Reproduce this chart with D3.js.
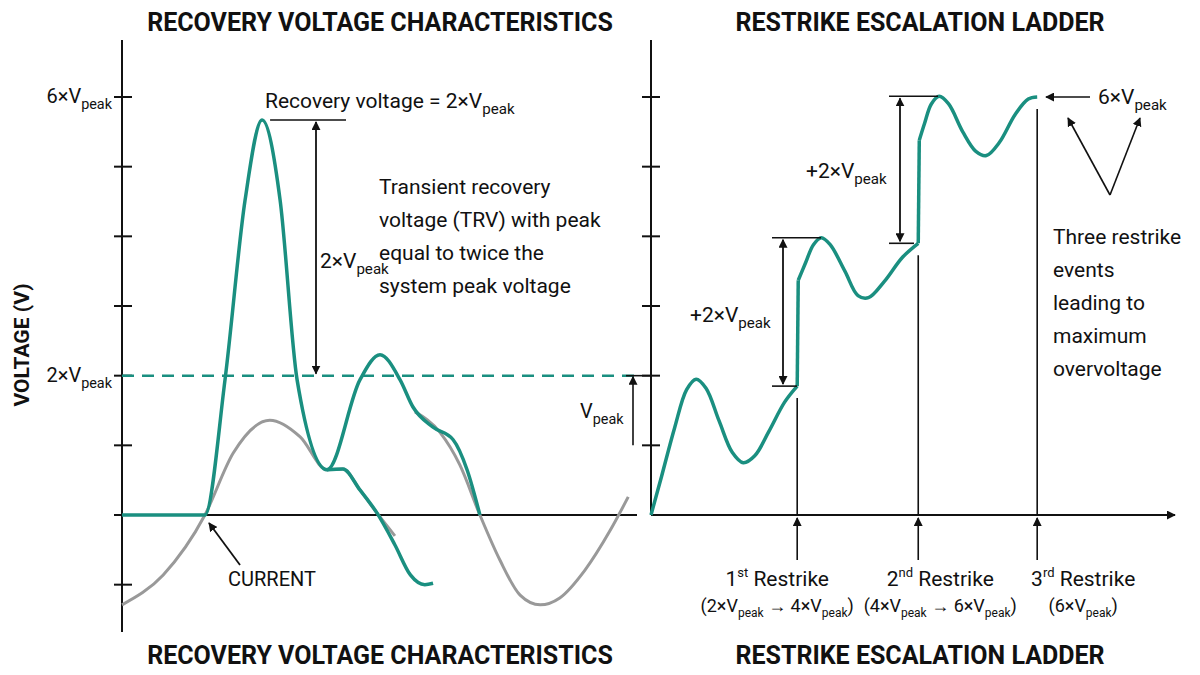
<!DOCTYPE html>
<html><head><meta charset="utf-8">
<script src="https://cdn.jsdelivr.net/npm/d3@7"></script>
<style>body{margin:0;background:#fff}text{font-family:Roboto,"Liberation Sans",sans-serif;fill:#111}</style>
</head><body><div id="chart"></div>
<script>
// values in units of Vpeak, time in arbitrary units
const trvMain = [[0,0],[1.61,0],[2.0,1.94],[2.39,4.52],[2.72,5.67],[3.07,4.52],[3.40,1.94],[3.98,0.65],[4.62,1.94],[5.01,2.30],[5.40,1.94],[5.65,1.55],[6.04,1.26],[6.43,1.08],[6.70,0.65],[6.95,0]];
const trvBranch = [[3.98,0.65],[4.29,0.66],[4.62,0.36],[4.95,0.03],[5.30,-0.43],[5.60,-0.86],[5.88,-1.0],[6.04,-0.98]];
const currentA = [[0,-1.29],[0.8,-0.86],[1.61,0],[2.16,0.89],[2.87,1.36],[3.46,1.12],[3.98,0.65],[4.29,0.66],[4.62,0.36],[4.95,0.03],[5.30,-0.3]];
const currentB = [[5.69,1.48],[6.17,1.19],[6.56,0.72],[6.95,0],[7.34,-0.65],[7.73,-1.15],[8.12,-1.29],[8.50,-1.19],[8.99,-0.79],[9.48,-0.22],[9.83,0.26]];
const ladderSegs = [
  [[0,0],[0.2,0.55],[0.45,1.25],[0.68,1.8],[0.86,1.95],[1.05,1.82],[1.3,1.35],[1.55,0.9],[1.76,0.75],[1.98,0.85],[2.25,1.2],[2.55,1.62],[2.79,1.85]],
  [[2.81,3.37],[2.95,3.62],[3.1,3.88],[3.25,3.98],[3.42,3.88],[3.7,3.5],[3.95,3.15],[4.15,3.12],[4.45,3.35],[4.8,3.7],[5.10,3.90]],
  [[5.12,5.38],[5.22,5.62],[5.35,5.9],[5.5,6.01],[5.68,5.9],[5.95,5.5],[6.2,5.22],[6.4,5.16],[6.65,5.35],[6.95,5.75],[7.2,5.97],[7.37,6.0]]
];
const restrikes = [
  {t: 2.79, from: 1.85, n: "1", sup: "st", a: "2", b: "4"},
  {t: 5.10, from: 3.90, n: "2", sup: "nd", a: "4", b: "6"},
  {t: 7.37, from: 6.0, n: "3", sup: "rd", a: "6", b: null}
];
const labelShift = [-20, 22, 46];
const tickVals = [-1, 0, 1, 2, 3, 4, 5, 6];

const W = 1200, H = 675, GREEN = "#1a8f80";
const svg = d3.select("#chart").append("svg").attr("width", W).attr("height", H);
const defs = svg.append("defs");
defs.append("marker").attr("id", "ah").attr("viewBox", "0 0 10 10").attr("refX", 9).attr("refY", 5)
  .attr("markerWidth", 9).attr("markerHeight", 9).attr("markerUnits", "userSpaceOnUse").attr("orient", "auto-start-reverse")
  .append("path").attr("d", "M0,0L10,5L0,10z").attr("fill", "#111");

const y = d3.scaleLinear().domain([0, 6]).range([515, 97]);
const xL = d3.scaleLinear().domain([0, 10]).range([122, 637]);
const xR = d3.scaleLinear().domain([0, 10]).range([651, 1175]);

function line(x1, y1, x2, y2, w = 1.6, arrowEnd = false, arrowStart = false) {
  const l = svg.append("line").attr("x1", x1).attr("y1", y1).attr("x2", x2).attr("y2", y2)
    .attr("stroke", "#111").attr("stroke-width", w);
  if (arrowEnd) l.attr("marker-end", "url(#ah)");
  if (arrowStart) l.attr("marker-start", "url(#ah)");
}
function vpeak(g, x, yy, pre, size = 21, anchor = "start") {
  const t = g.append("text").attr("x", x).attr("y", yy).attr("font-size", size).attr("text-anchor", anchor);
  t.append("tspan").text(pre + "V");
  t.append("tspan").attr("font-size", size * 0.72).attr("dy", 6).text("peak");
  return t;
}
function title(x, yy, s) {
  svg.append("text").attr("x", x).attr("y", yy).attr("text-anchor", "middle").attr("font-size", 25)
    .attr("font-weight", "bold").text(s);
}

// titles
title(380, 31, "RECOVERY VOLTAGE CHARACTERISTICS");
title(380, 664, "RECOVERY VOLTAGE CHARACTERISTICS");
title(920, 31, "RESTRIKE ESCALATION LADDER");
title(920, 664, "RESTRIKE ESCALATION LADDER");

svg.append("text").attr("transform", "translate(29,345) rotate(-90)").attr("text-anchor", "middle")
  .attr("font-size", 21).attr("font-weight", "bold").text("VOLTAGE (V)");

// left axes
line(xL(0), 40, xL(0), 632, 2);
line(xL(0), y(0), xL(10), y(0), 2.2);
tickVals.forEach(v => line(xL(0) - 8, y(v), xL(0) + 10, y(v), 2));
vpeak(svg, 112, y(6) + 6, "6×", 20, "end");
vpeak(svg, 112, y(2) + 6, "2×", 20, "end");
svg.append("line").attr("x1", xL(0)).attr("x2", xL(10)).attr("y1", y(2)).attr("y2", y(2))
  .attr("stroke", GREEN).attr("stroke-width", 2.5).attr("stroke-dasharray", "12,8");

const genL = d3.line().x(d => xL(d[0])).y(d => y(d[1])).curve(d3.curveMonotoneX);
[currentA, currentB].forEach(d => svg.append("path").attr("d", genL(d)).attr("fill", "none").attr("stroke", "#999").attr("stroke-width", 3));
[trvBranch, trvMain].forEach(d => svg.append("path").attr("d", genL(d)).attr("fill", "none").attr("stroke", GREEN).attr("stroke-width", 3.5));

// left annotations
const pk = d3.greatest(trvMain, d => d[1]);
line(xL(pk[0]) + 8, y(pk[1]), 346, y(pk[1]));
line(316, y(pk[1]) + 2, 316, y(2) - 2, 1.8, true, true);
vpeak(svg, 265, 108, "Recovery voltage = 2×", 21);
vpeak(svg, 320, 268, "2×", 21);
["Transient recovery", "voltage (TRV) with peak", "equal to twice the", "system peak voltage"]
  .forEach((s, i) => svg.append("text").attr("x", 379).attr("y", 194 + i * 33).attr("font-size", 21).text(s));
line(240, 565, 209, 523, 1.8, true);
svg.append("text").attr("x", 228).attr("y", 586).attr("font-size", 20).text("CURRENT");

// right axes
line(xR(0), 40, xR(0), y(0), 2);
line(xR(0), y(0), xR(10), y(0), 2.2, true);
d3.range(1, 7).forEach(v => line(xR(0) - 9, y(v), xR(0) + 9, y(v), 2));
const genR = d3.line().x(d => xR(d[0])).y(d => y(d[1])).curve(d3.curveCatmullRom.alpha(0.5));
ladderSegs.forEach((seg, i) => {
  svg.append("path").attr("d", genR(seg)).attr("fill", "none").attr("stroke", GREEN).attr("stroke-width", 3.5);
  if (i > 0) {
    const a = ladderSegs[i - 1][ladderSegs[i - 1].length - 1], b = seg[0];
    svg.append("line").attr("x1", xR(a[0])).attr("y1", y(a[1])).attr("x2", xR(b[0])).attr("y2", y(b[1]))
      .attr("stroke", GREEN).attr("stroke-width", 3.5);
  }
});

// Vpeak bracket
line(626, y(2), 650, y(2));
line(633, y(1), 633, y(2) + 1, 1.6, true);
vpeak(svg, 580, 418, "", 20);

// restrike markers
restrikes.forEach((r, i) => {
  const x = xR(r.t), cx = x + labelShift[i];
  line(x, y(r.from) + 12, x, y(0));
  line(x, 560, x, y(0) + 3, 1.6, true);
  const t = svg.append("text").attr("x", cx).attr("y", 586).attr("text-anchor", "middle").attr("font-size", 21);
  t.append("tspan").text(r.n);
  t.append("tspan").attr("font-size", 13).attr("dy", -9).text(r.sup);
  t.append("tspan").attr("dy", 9).text(" Restrike");
  const p = svg.append("text").attr("x", cx).attr("y", 612).attr("text-anchor", "middle").attr("font-size", 18);
  p.append("tspan").text("(" + r.a + "×V");
  p.append("tspan").attr("font-size", 12).attr("dy", 5).text("peak");
  if (r.b) {
    p.append("tspan").attr("dy", -5).text(" → " + r.b + "×V");
    p.append("tspan").attr("font-size", 12).attr("dy", 5).text("peak");
  }
  p.append("tspan").attr("dy", -5).text(")");
});

// +2×Vpeak brackets
const steps = [{x: 783, lo: 1.85, hi: 3.98, tx: 690, ty: 322}, {x: 900, lo: 3.90, hi: 6.01, tx: 806, ty: 178}];
steps.forEach(s => {
  line(s.x - 11, y(s.hi), s.x + 38, y(s.hi));
  line(s.x - 11, y(s.lo), s.x + 14, y(s.lo));
  line(s.x, y(s.hi) + 2, s.x, y(s.lo) - 2, 1.8, true, true);
  vpeak(svg, s.tx, s.ty, "+2×", 21);
});

// 6×Vpeak callout
line(1090, y(6), 1046, y(6), 1.6, true);
vpeak(svg, 1098, y(6) + 7, "6×", 21);
line(1110, 195, 1068, 118, 1.6, true);
line(1110, 195, 1140, 118, 1.6, true);
["Three restrike", "events", "leading to", "maximum", "overvoltage"]
  .forEach((s, i) => svg.append("text").attr("x", 1053).attr("y", 244 + i * 33).attr("font-size", 21).text(s));
</script></body></html>
